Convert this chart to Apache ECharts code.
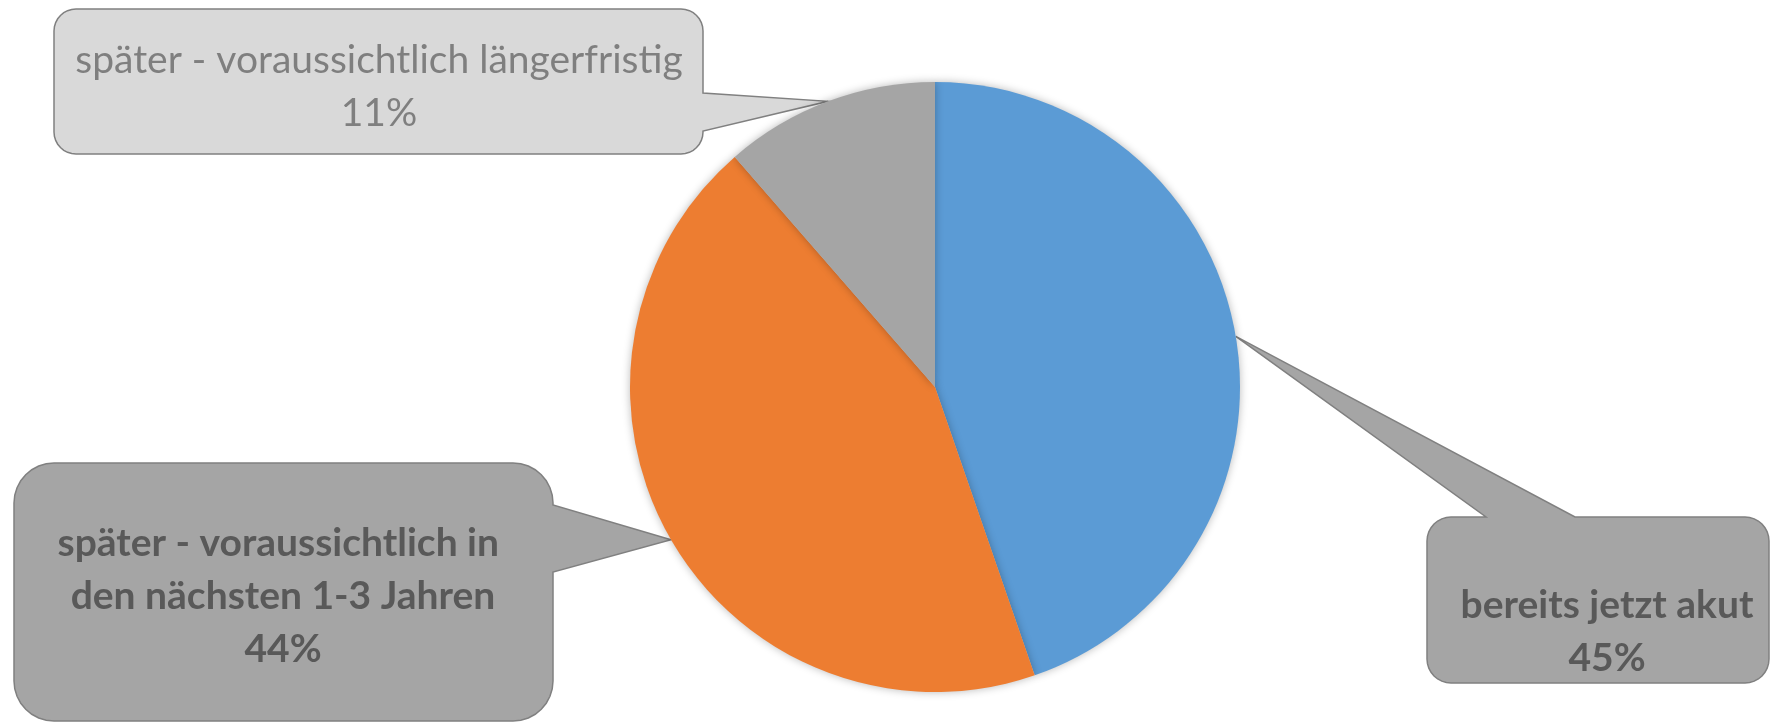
<!DOCTYPE html>
<html>
<head>
<meta charset="utf-8">
<script src="https://cdn.jsdelivr.net/npm/echarts@6/dist/echarts.min.js"></script>
<style>
  html, body { margin: 0; padding: 0; background: #fff; }
  #chart { width: 1771px; height: 723px; }
</style>
</head>
<body>
<div id="chart"></div>
<script>
  // data
  var categories = ['bereits jetzt akut', 'später - voraussichtlich in den nächsten 1-3 Jahren', 'später - voraussichtlich längerfristig'];
  var values = [44.7, 43.9, 11.4];
  var colors = ['#5B9BD5', '#ED7D31', '#A5A5A5'];

  // callout boxes: [x0, y0, x1, y1, corner radius, side of the pointer, pointer base a, b]
  var boxes = [
    [1427, 517, 1769, 683, 24, 'top', 1486, 1575],
    [14, 463, 553, 721, 40, 'right', 505, 572],
    [54, 9, 703, 154, 22, 'right', 93, 131]
  ];
  var boxFill = ['#A5A5A5', '#A5A5A5', '#D9D9D9'];
  var textPos = [[1607, 632], [283, 596], [379, 87]];

  var font = 'Lato, "Noto Sans", sans-serif';
  var labelStyles = [
    { color: '#595959', fontWeight: 'bold' },
    { color: '#595959', fontWeight: 'bold', width: 485, overflow: 'break' },
    { color: '#7F7F7F', fontWeight: 'normal' }
  ];

  var chart = echarts.init(document.getElementById('chart'));
  var data = categories.map(function (n, i) {
    return { name: n, value: values[i], itemStyle: { color: colors[i] }, label: labelStyles[i] };
  });

  chart.setOption({
    backgroundColor: '#fff',
    animation: false,
    series: [{
      type: 'pie',
      center: [935, 387],
      radius: 305,
      startAngle: 90,
      clockwise: true,
      data: data,
      itemStyle: {
        borderWidth: 0,
        shadowBlur: 8,
        shadowColor: 'rgba(0,0,0,0.28)'
      },
      label: {
        show: true,
        fontFamily: font,
        fontSize: 39,
        lineHeight: 53,
        align: 'center',
        formatter: function (p) { return p.name + '\n' + Math.round(p.percent) + '%'; }
      },
      labelLine: { show: false },
      labelLayout: function (p) {
        var t = textPos[p.dataIndex];
        return { x: t[0], y: t[1], align: 'center', verticalAlign: 'middle' };
      }
    }]
  });

  // callout shapes, pointing at the middle of each slice edge
  function corner(pts, cx, cy, r, a0, a1) {
    for (var k = 0; k <= 8; k++) {
      var a = a0 + (a1 - a0) * k / 8;
      pts.push([cx + r * Math.cos(a), cy + r * Math.sin(a)]);
    }
  }
  function callout(b, tip) {
    var x0 = b[0], y0 = b[1], x1 = b[2], y1 = b[3], r = b[4];
    var pts = [];
    corner(pts, x0 + r, y0 + r, r, Math.PI, Math.PI * 1.5);
    if (b[5] === 'top') { pts.push([b[6], y0], tip, [b[7], y0]); }
    corner(pts, x1 - r, y0 + r, r, -Math.PI / 2, 0);
    if (b[5] === 'right') { pts.push([x1, b[6]], tip, [x1, b[7]]); }
    corner(pts, x1 - r, y1 - r, r, 0, Math.PI / 2);
    corner(pts, x0 + r, y1 - r, r, Math.PI / 2, Math.PI);
    return pts;
  }

  var seriesData = chart.getModel().getSeriesByIndex(0).getData();
  var shapes = [];
  for (var i = 0; i < values.length; i++) {
    var l = seriesData.getItemLayout(i);
    var mid = (l.startAngle + l.endAngle) / 2;
    var tip = [l.cx + l.r * Math.cos(mid), l.cy + l.r * Math.sin(mid)];
    shapes.push({
      type: 'polygon',
      z: 0,
      shape: { points: callout(boxes[i], tip) },
      style: { fill: boxFill[i], stroke: '#808080', lineWidth: 1.5 }
    });
  }
  chart.setOption({ graphic: shapes });
</script>
</body>
</html>
